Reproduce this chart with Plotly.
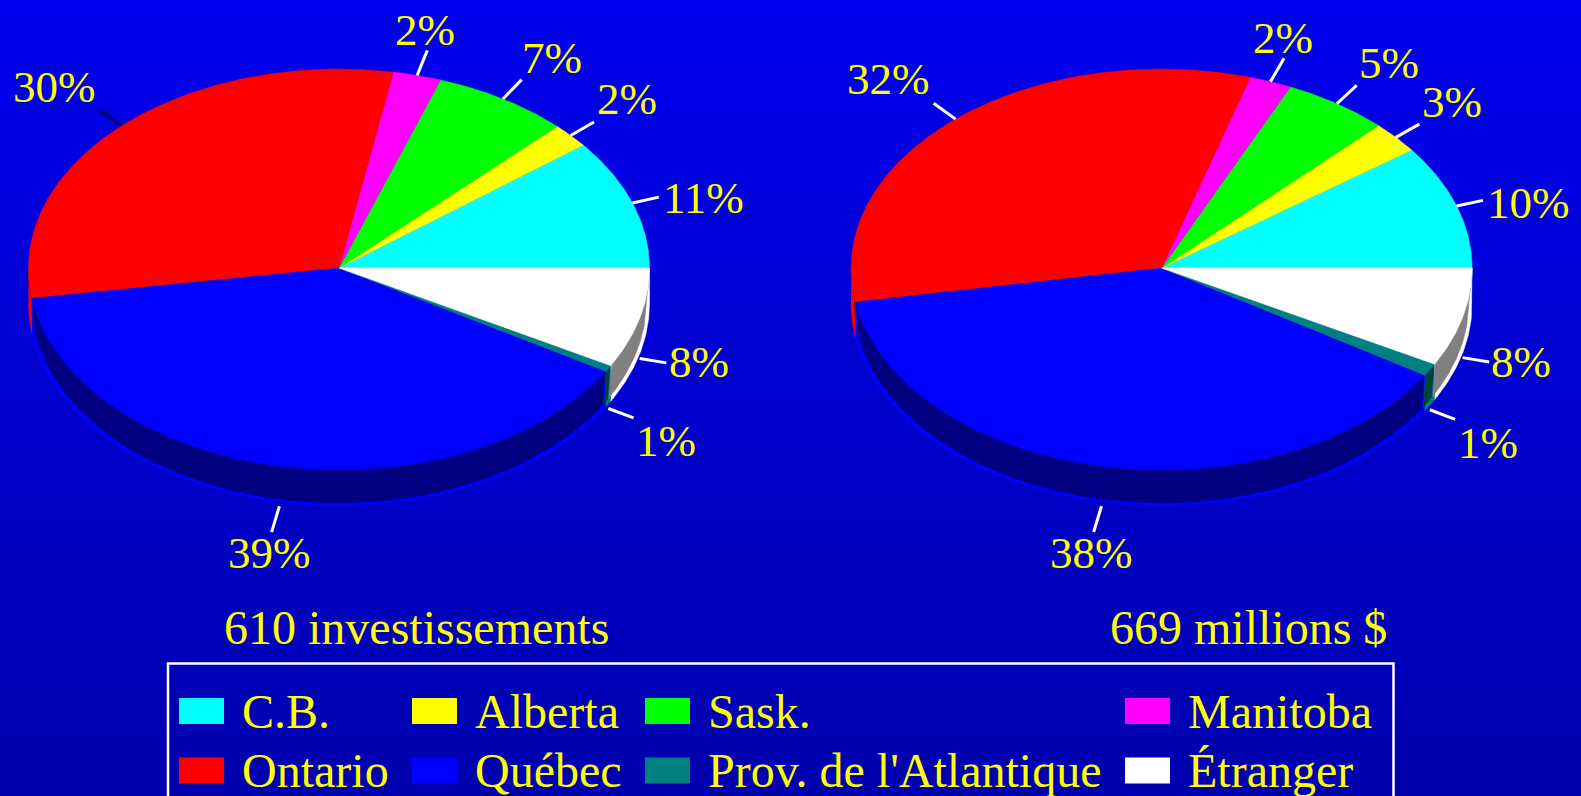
import numpy as np
import plotly.graph_objects as go

# parts des provinces (en %)
regions = ["C.B.", "Alberta", "Sask.", "Manitoba", "Ontario", "Québec", "Prov. de l'Atlantique", "Étranger"]
invest_values = [10.6, 2.0, 7.1, 2.5, 30.2, 39.05, 0.52, 8.03]
millions_values = [10.1, 2.6, 5.5, 2.2, 32.3, 38.4, 1.0, 7.9]
invest_labels = ["11%", "2%", "7%", "2%", "30%", "39%", "1%", "8%"]
millions_labels = ["10%", "2%", "5%", "3%", "32%", "38%", "1%", "8%"]
invest_caption = "610 investissements"
millions_caption = "669 millions $"

colors = ["#00ffff", "#ffff00", "#00ff00", "#ff00ff", "#ff0000", "#0000ff", "#008080", "#ffffff"]
dark_colors = ["#008080", "#808000", "#008000", "#800080", "#800000", "#000080", "#004040", "#808080"]

W, H = 1581, 796
RX, RY_TOP, RY_LOW, DEPTH = 310.5, 199, 202, 35.5
YELLOW = "#ffff00"
FONT = "Liberation Serif"
PCT_SIZE = 45
TXT_SIZE = 48
LEADER = 27

# mise en page (centre du texte de chaque pourcentage)
invest_pos = [(703, 198), (425, 30), (552, 58), (627, 99), (54, 87), (269, 553), (666, 441), (699, 362)]
millions_pos = [(1528, 203), (1283, 38), (1389, 63), (1452, 102), (888, 79), (1091, 553), (1488, 443), (1521, 362)]
legend_cols = [179, 412, 645, 1125]
swatch_w = 45


def arc(cx, cy, a0, a1, rx=RX):
    t = np.radians(np.linspace(a0, a1, max(int(abs(a1 - a0) * 2), 2)))
    s = np.sin(t)
    # le disque n'est pas tout à fait symétrique: haut et bas ont un rayon différent
    return cx + rx * np.cos(t), cy - np.where(s > 0, RY_TOP, RY_LOW) * s


def add_poly(fig, x, y, color):
    fig.add_trace(go.Scatter(x=list(x), y=list(y), mode="lines", fill="toself", fillcolor=color,
                             line=dict(color=color, width=0.5), hoverinfo="skip", showlegend=False))


def add_pie(fig, cx, cy, values, labels, positions, leader_colors):
    edges = np.concatenate([[0], np.cumsum(values)]) * 3.6

    # flanc du disque, seulement la moitié basse
    for i in range(len(values)):
        a0, a1 = max(edges[i], 180), min(edges[i + 1], 360)
        if a1 <= a0:
            continue
        xt, yt = arc(cx, cy, a0, a1)
        xb, yb = arc(cx, cy + DEPTH, a0, a1)
        add_poly(fig, np.r_[xt, xb[::-1]], np.r_[yt, yb[::-1]], colors[i])
        xs, ys = arc(cx, cy + DEPTH - 2.5, a0 + 0.25, a1 - 0.25, RX - 3)
        xt, yt = arc(cx, cy, a0 + 0.25, a1 - 0.25)
        add_poly(fig, np.r_[xt, xs[::-1]], np.r_[yt, ys[::-1]], dark_colors[i])

    # dessus du disque
    for i in range(len(values)):
        x, y = arc(cx, cy, edges[i], edges[i + 1])
        add_poly(fig, np.r_[cx, x, cx], np.r_[cy, y, cy], colors[i])

    # traits de rappel et pourcentages
    for i in range(len(values)):
        mid = np.radians((edges[i] + edges[i + 1]) / 2)
        dx, dy = RX * np.cos(mid), -(RY_TOP if np.sin(mid) > 0 else RY_LOW) * np.sin(mid)
        y0 = cy + dy + (40 if dy > 0 else 0)
        n = np.hypot(dx, dy)
        fig.add_trace(go.Scatter(x=[cx + dx, cx + dx + LEADER * dx / n], y=[y0, y0 + LEADER * dy / n], mode="lines",
                                 line=dict(color=leader_colors[i], width=3), hoverinfo="skip", showlegend=False))
        fig.add_annotation(x=positions[i][0], y=positions[i][1], text=labels[i], showarrow=False,
                           xanchor="center", yanchor="middle", font=dict(family=FONT, size=PCT_SIZE, color=YELLOW))


fig = go.Figure()

# fond en dégradé
fig.add_trace(go.Scatter(x=[0, W, W, 0, 0], y=[0, 0, H, H, 0], mode="none", fill="toself",
                         fillgradient=dict(type="vertical", colorscale=[[0, "#0000ae"], [1, "#0000f0"]]),
                         hoverinfo="skip", showlegend=False))

invest_leaders = ["#ffffff"] * 8
invest_leaders[4] = "#000060"
add_pie(fig, 339, 268, invest_values, invest_labels, invest_pos, invest_leaders)
add_pie(fig, 1161.6, 268, millions_values, millions_labels, millions_pos, ["#ffffff"] * 8)

fig.add_annotation(x=416.5, y=627, text=invest_caption, showarrow=False, xanchor="center", yanchor="middle",
                   font=dict(family=FONT, size=TXT_SIZE, color=YELLOW))
fig.add_annotation(x=1248, y=627, text=millions_caption, showarrow=False, xanchor="center", yanchor="middle",
                   font=dict(family=FONT, size=TXT_SIZE, color=YELLOW))

# légende dessinée à la main, pour garder les colonnes de l'original
fig.add_shape(type="rect", x0=168, x1=1393.5, y0=663.5, y1=800, line=dict(color="#ffffff", width=2.5))
for i, name in enumerate(regions):
    col, row = i % 4, i // 4
    ymid = 711 + row * 59.5
    x0 = legend_cols[col]
    fig.add_shape(type="rect", x0=x0, x1=x0 + swatch_w, y0=ymid - 13, y1=ymid + 13,
                  fillcolor=colors[i], line=dict(width=0))
    fig.add_annotation(x=x0 + swatch_w + 15.5, y=ymid, text=name, showarrow=False,
                       xanchor="left", yanchor="middle", font=dict(family=FONT, size=TXT_SIZE, color=YELLOW))

fig.update_layout(
    width=W, height=H, margin=dict(l=0, r=0, t=0, b=0),
    paper_bgcolor="#0000d0", plot_bgcolor="#0000d0", showlegend=False,
    xaxis=dict(range=[0, W], visible=False, fixedrange=True),
    yaxis=dict(range=[H, 0], visible=False, fixedrange=True),
)

fig.write_html("out.html", config={"displayModeBar": False},
               post_script="document.body.style.margin='0';document.documentElement.style.overflow='hidden';")
